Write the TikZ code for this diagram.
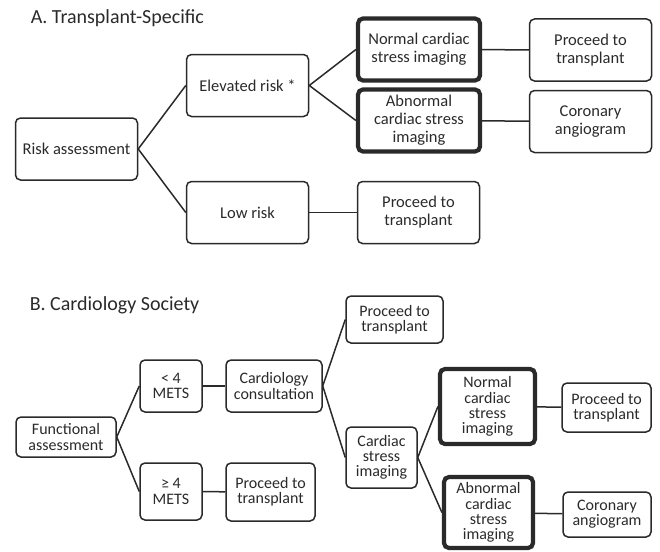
\documentclass[tikz,border=0pt]{standalone}
\usepackage{fontspec}
\setmainfont{Carlito}
\definecolor{ink}{HTML}{2A2A2A}
\tikzset{
  box/.style={draw=ink, line width=1.5pt, rounded corners=5pt, text=ink,
    align=center, inner sep=0pt, minimum width=#1},
  box/.default=122pt,
  boldbox/.style={box=#1, line width=4.2pt},
  boldbox/.default=122pt,
  fontA/.style={font=\fontsize{16.5}{18}\selectfont},
  fontB/.style={font=\fontsize{16}{15.2}\selectfont},
  title/.style={anchor=west, text=ink, inner sep=0pt, font=\fontsize{20}{24}\selectfont}
}
\begin{document}
\begin{tikzpicture}[x=1pt, y=-1pt, line width=1.5pt, draw=ink]
  \useasboundingbox (0,0) rectangle (660,551);
  % titles
  \node[title] (titleA) at (30,18)  {A. Transplant-Specific};
  \node[title] (titleB) at (29,305) {B. Cardiology Society};

  % panel A nodes
  \begin{scope}[every node/.append style={fontA, minimum height=62pt}]
    \node[box]     (riskA)  at (76.5,149)  {Risk assessment};
    \node[box]     (elevA)  at (247.5,85.5) {Elevated risk *};
    \node[box]     (lowA)   at (247.5,212.5) {Low risk};
    \node[boldbox] (normA)  at (419,49.5)  {Normal cardiac\\stress imaging};
    \node[boldbox] (abnA)   at (419,120.5) {Abnormal\\cardiac stress\\imaging};
    \node[box]     (procA)  at (590.5,50)  {Proceed to\\transplant};
    \node[box]     (corA)   at (590.5,121.5) {Coronary\\angiogram};
    \node[box]     (procAb) at (418.5,212.5) {Proceed to\\transplant};
  \end{scope}

  % panel B nodes
  \begin{scope}[every node/.append style={fontB}]
    \node[box=100pt, minimum height=40pt]    (funcB)  at (66,437)     {Functional\\assessment};
    \node[box=62pt, minimum height=52pt]     (ltB)    at (171,386)    {< 4\\METS};
    \node[box=62pt, minimum height=57pt]     (geB)    at (171,491.5)  {≥ 4\\METS};
    \node[box=96pt, minimum height=52pt]     (cardB)  at (274,386)    {Cardiology\\consultation};
    \node[box=89pt, minimum height=58pt]     (procB)  at (270.5,492)  {Proceed to\\transplant};
    \node[box=97pt, minimum height=47pt]     (procBt) at (394.5,319.5) {Proceed to\\transplant};
    \node[box=71pt, minimum height=61pt]     (csiB)   at (381.5,457.5) {Cardiac\\stress\\imaging};
    \node[boldbox=95pt, minimum height=75pt] (normB)  at (487.5,406.5) {Normal\\cardiac\\stress\\imaging};
    \node[boldbox=89pt, minimum height=71pt] (abnB)   at (488.5,512.5) {Abnormal\\cardiac\\stress\\imaging};
    \node[box=89pt, minimum height=49pt]     (procBr) at (606.5,407.5) {Proceed to\\transplant};
    \node[box=88pt, minimum height=45pt]     (corB)   at (607,514.5)  {Coronary\\angiogram};
  \end{scope}

  % edges, panel A
  \draw (elevA.west) -- (riskA.east) -- (lowA.west);
  \draw (normA.west) -- (elevA.east) -- (abnA.west);
  \draw (normA) -- (procA);
  \draw (abnA) -- (corA);
  \draw (lowA) -- (procAb);

  % edges, panel B
  \draw (ltB.west) -- (funcB.east) -- (geB.west);
  \draw (ltB) -- (cardB);
  \draw (geB) -- (procB);
  \draw (procBt.west) -- (cardB.east) -- (csiB.west);
  \draw (normB.west) -- (csiB.east) -- (abnB.west);
  \draw (normB) -- (procBr);
  \draw (abnB) -- (corB);
\end{tikzpicture}
\end{document}
